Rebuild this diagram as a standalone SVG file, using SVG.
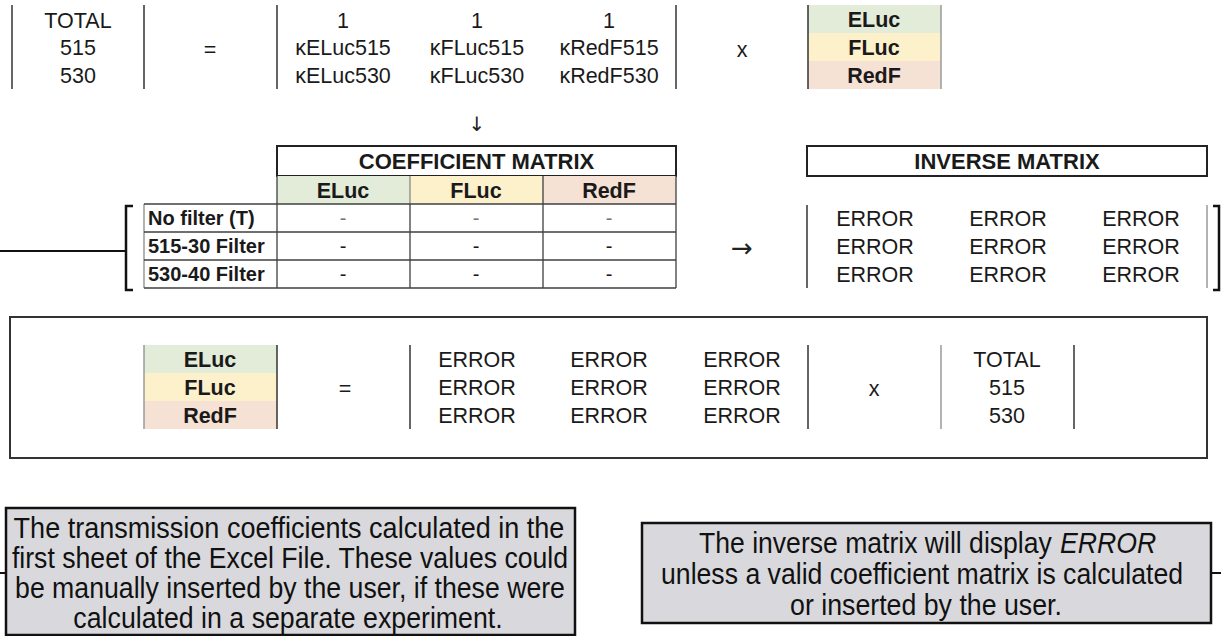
<svg xmlns="http://www.w3.org/2000/svg" width="1221" height="636" viewBox="0 0 1221 636">
<style>
  text { font-family: "Liberation Sans", Arial, sans-serif; fill: #1a1a1a; }
  .r { font-size: 21.5px; text-anchor: middle; }
  .b { font-size: 21.5px; font-weight: bold; text-anchor: middle; }
  .lbl { font-size: 20px; font-weight: bold; }
  .ttl { font-size: 22px; font-weight: bold; text-anchor: middle; }
  .d { font-size: 20px; text-anchor: middle; }
  .dl { fill: #777; }
  .arr { font-family: "DejaVu Sans", sans-serif; text-anchor: middle; fill: #222; }
  .v { stroke: #333; stroke-width: 1.5; }
  .vg { stroke: #9a9a9a; stroke-width: 1.5; }
  .g { fill: #e2ecd9; }
  .y { fill: #fdf1cc; }
  .p { fill: #f6e1d5; }
  .note { fill: #d9d9dd; stroke: #111; stroke-width: 2.5; }
  .nt { font-size: 29px; text-anchor: middle; fill: #111; }
  .ns { font-size: 29px; text-anchor: start; fill: #111; }
  .grid { stroke: #404040; stroke-width: 1.3; fill: none; }
  .gridg { stroke: #8a8a8a; stroke-width: 1.3; fill: none; }
  .box { fill: #fff; stroke: #222; stroke-width: 2; }
  .conn { stroke: #111; stroke-width: 2; fill: none; }
  .brk { stroke: #111; stroke-width: 2.5; fill: none; }
</style>

<!-- Top equation -->
<g id="top-equation">
  <line class="v" x1="12" y1="5" x2="12" y2="89"/>
  <line class="v" x1="144" y1="5" x2="144" y2="89"/>
  <line class="v" x1="277" y1="5" x2="277" y2="89"/>
  <line class="v" x1="676" y1="5" x2="676" y2="89"/>
  <text class="r" x="78" y="28">TOTAL</text>
  <text class="r" x="78" y="55">515</text>
  <text class="r" x="78" y="83">530</text>
  <text class="r" x="210" y="57">=</text>
  <text class="r" x="343" y="28">1</text>
  <text class="r" x="343" y="55">κELuc515</text>
  <text class="r" x="343" y="83">κELuc530</text>
  <text class="r" x="477" y="28">1</text>
  <text class="r" x="477" y="55">κFLuc515</text>
  <text class="r" x="477" y="83">κFLuc530</text>
  <text class="r" x="609" y="28">1</text>
  <text class="r" x="609" y="55">κRedF515</text>
  <text class="r" x="609" y="83">κRedF530</text>
  <text class="r" x="742" y="57">x</text>
  <rect class="g" x="808" y="5" width="133" height="28"/>
  <rect class="y" x="808" y="33" width="133" height="28"/>
  <rect class="p" x="808" y="61" width="133" height="28"/>
  <line class="v" x1="808" y1="5" x2="808" y2="89"/>
  <line class="vg" x1="941" y1="5" x2="941" y2="89"/>
  <text class="b" x="874" y="27">ELuc</text>
  <text class="b" x="874" y="55">FLuc</text>
  <text class="b" x="874" y="83">RedF</text>
</g>

<!-- Coefficient matrix table -->
<g id="coefficient-matrix">
  <rect class="box" x="277" y="146" width="399" height="30"/>
  <text class="ttl" x="476.5" y="169">COEFFICIENT MATRIX</text>
  <rect class="g" x="277" y="176" width="133" height="28"/>
  <rect class="y" x="410" y="176" width="133" height="28"/>
  <rect class="p" x="543" y="176" width="133" height="28"/>
  <text class="b" x="343" y="198">ELuc</text>
  <text class="b" x="476" y="198">FLuc</text>
  <text class="b" x="609" y="198">RedF</text>
  <path class="gridg" d="M144,204 V288 M410,176 V204"/>
  <path class="grid" d="M144,204 H676 M144,232 H676 M144,260 H676 M144,288 H676 M277,176 V288 M410,204 V288 M543,176 V288 M676,176 V288"/>
  <text class="lbl" x="148" y="225">No filter (T)</text>
  <text class="lbl" x="148" y="253">515-30 Filter</text>
  <text class="lbl" x="148" y="281">530-40 Filter</text>
  <text class="d dl" x="343" y="225">-</text>
  <text class="d dl" x="476" y="225">-</text>
  <text class="d dl" x="609" y="225">-</text>
  <text class="d" x="343" y="253">-</text>
  <text class="d" x="476" y="253">-</text>
  <text class="d" x="609" y="253">-</text>
  <text class="d" x="343" y="281">-</text>
  <text class="d" x="476" y="281">-</text>
  <text class="d" x="609" y="281">-</text>
</g>

<!-- Inverse matrix -->
<g id="inverse-matrix">
  <rect class="box" x="807" y="146" width="400" height="30"/>
  <text class="ttl" x="1007" y="169">INVERSE MATRIX</text>
  <line class="v" x1="807" y1="205" x2="807" y2="288"/>
  <line class="vg" x1="1207" y1="205" x2="1207" y2="288"/>
  <text class="r" x="875" y="226">ERROR</text>
  <text class="r" x="1008" y="226">ERROR</text>
  <text class="r" x="1141" y="226">ERROR</text>
  <text class="r" x="875" y="254">ERROR</text>
  <text class="r" x="1008" y="254">ERROR</text>
  <text class="r" x="1141" y="254">ERROR</text>
  <text class="r" x="875" y="282">ERROR</text>
  <text class="r" x="1008" y="282">ERROR</text>
  <text class="r" x="1141" y="282">ERROR</text>
</g>

<!-- Solution equation box -->
<g id="solution-equation">
  <rect x="10" y="317" width="1197" height="141" fill="#fff" stroke="#333" stroke-width="2"/>
  <rect class="g" x="144" y="345" width="133" height="28"/>
  <rect class="y" x="144" y="373" width="133" height="28"/>
  <rect class="p" x="144" y="401" width="133" height="28"/>
  <line class="vg" x1="144" y1="345" x2="144" y2="429"/>
  <line class="v" x1="277" y1="345" x2="277" y2="429"/>
  <text class="b" x="210" y="367">ELuc</text>
  <text class="b" x="210" y="395">FLuc</text>
  <text class="b" x="210" y="423">RedF</text>
  <text class="r" x="345" y="396">=</text>
  <line class="v" x1="410" y1="345" x2="410" y2="429"/>
  <text class="r" x="477" y="367">ERROR</text>
  <text class="r" x="609" y="367">ERROR</text>
  <text class="r" x="742" y="367">ERROR</text>
  <text class="r" x="477" y="395">ERROR</text>
  <text class="r" x="609" y="395">ERROR</text>
  <text class="r" x="742" y="395">ERROR</text>
  <text class="r" x="477" y="423">ERROR</text>
  <text class="r" x="609" y="423">ERROR</text>
  <text class="r" x="742" y="423">ERROR</text>
  <line class="v" x1="808" y1="345" x2="808" y2="429"/>
  <text class="r" x="874" y="396">x</text>
  <line class="vg" x1="941" y1="345" x2="941" y2="429"/>
  <text class="r" x="1007" y="367">TOTAL</text>
  <text class="r" x="1007" y="395">515</text>
  <text class="r" x="1007" y="423">530</text>
  <line class="v" x1="1074" y1="345" x2="1074" y2="429"/>
</g>

<!-- Notes -->
<g id="note-coefficients">
  <rect class="note" x="6" y="508" width="569" height="127"/>
  <text class="nt" transform="translate(289,538) scale(0.9,1)" x="0" y="0" textLength="612" lengthAdjust="spacingAndGlyphs">The transmission coefficients calculated in the</text>
  <text class="nt" transform="translate(290,568) scale(0.9,1)" x="0" y="0" textLength="618" lengthAdjust="spacingAndGlyphs">first sheet of the Excel File. These values could</text>
  <text class="nt" transform="translate(290,598) scale(0.9,1)" x="0" y="0" textLength="611" lengthAdjust="spacingAndGlyphs">be manually inserted by the user, if these were</text>
  <text class="nt" transform="translate(288,628) scale(0.9,1)" x="0" y="0" textLength="477" lengthAdjust="spacingAndGlyphs">calculated in a separate experiment.</text>
</g>
<g id="note-inverse">
  <rect class="note" x="642" y="523" width="569" height="100"/>
  <text class="ns" transform="translate(699,553) scale(0.9,1)" x="0" y="0" textLength="392" lengthAdjust="spacingAndGlyphs">The inverse matrix will display</text>
  <text class="ns" transform="translate(1060,553) scale(0.9,1)" x="0" y="0" font-style="italic" textLength="107" lengthAdjust="spacingAndGlyphs">ERROR</text>
  <text class="nt" transform="translate(922,584) scale(0.9,1)" x="0" y="0" textLength="580" lengthAdjust="spacingAndGlyphs">unless a valid coefficient matrix is calculated</text>
  <text class="nt" transform="translate(926,615) scale(0.9,1)" x="0" y="0" textLength="302" lengthAdjust="spacingAndGlyphs">or inserted by the user.</text>
</g>

<!-- Connectors and symbols -->
<g id="connectors">
  <path class="brk" d="M133,206 H126 V290 H133"/>
  <line class="conn" x1="0" y1="251" x2="126" y2="251"/>
  <path class="brk" d="M1213,206 H1219 V290 H1213"/>
  <line class="conn" x1="0" y1="573" x2="6" y2="573"/>
  <line class="conn" x1="1211" y1="573" x2="1221" y2="573"/>
  <text class="arr" x="477" y="131" font-size="20">↓</text>
  <text class="arr" x="742" y="257" font-size="26">→</text>
</g>
</svg>
